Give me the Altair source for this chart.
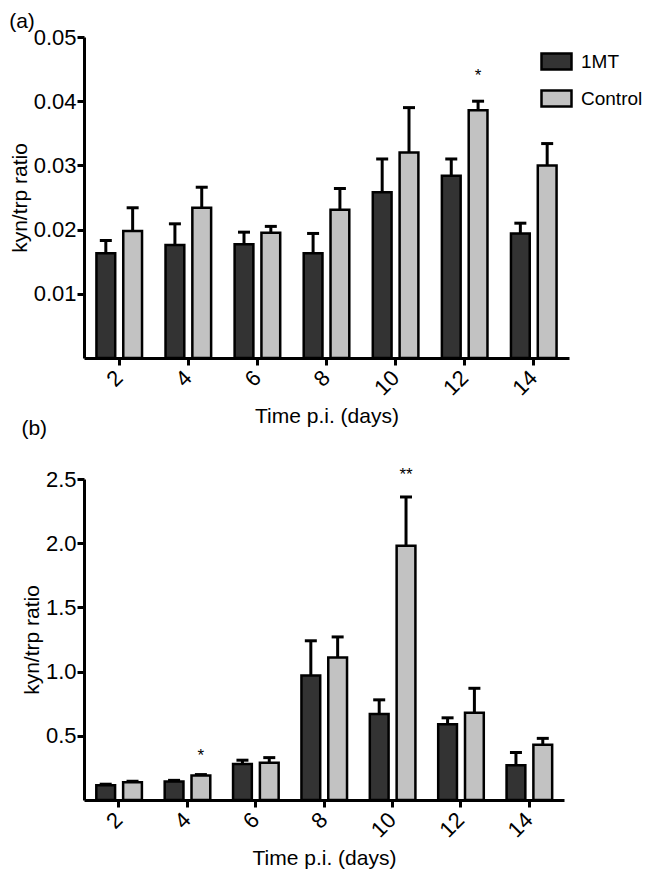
import altair as alt
import pandas as pd

days = ["2", "4", "6", "8", "10", "12", "14"]
groups = ["1MT", "Control"]
colors = ["#333333", "#c2c2c2"]

# Panel (a)
a_1mt = [0.0163, 0.0176, 0.0177, 0.0163, 0.0258, 0.0284, 0.0194]
a_1mt_err = [0.0020, 0.0033, 0.0019, 0.0031, 0.0052, 0.0026, 0.0016]
a_ctrl = [0.0198, 0.0234, 0.0195, 0.0231, 0.0320, 0.0386, 0.0300]
a_ctrl_err = [0.0036, 0.0032, 0.0010, 0.0033, 0.0070, 0.0014, 0.0034]
a_star_day = ["12"]
a_star_text = ["*"]
a_star_y = [0.0447]
a_ticks = [0.01, 0.02, 0.03, 0.04, 0.05]

# Panel (b)
b_1mt = [0.115, 0.145, 0.28, 0.97, 0.67, 0.59, 0.27]
b_1mt_err = [0.008, 0.008, 0.03, 0.27, 0.11, 0.05, 0.10]
b_ctrl = [0.138, 0.19, 0.29, 1.11, 1.98, 0.68, 0.43]
b_ctrl_err = [0.008, 0.008, 0.04, 0.16, 0.38, 0.19, 0.05]
b_star_day = ["4", "10"]
b_star_text = ["*", "**"]
b_star_y = [0.38, 2.57]
b_ticks = [0.5, 1.0, 1.5, 2.0, 2.5]

FONT = "Liberation Sans"


def make_df(m1, e1, m2, e2):
    rows = []
    for i, d in enumerate(days):
        rows.append(dict(day=d, group=groups[0], mean=m1[i], upper=m1[i] + e1[i]))
        rows.append(dict(day=d, group=groups[1], mean=m2[i], upper=m2[i] + e2[i]))
    return pd.DataFrame(rows)


def panel(df, star_df, ymax, ticks, fmt, label, width, height, legend, title_offset):
    x = alt.X("day:N", sort=days,
              scale=alt.Scale(paddingInner=0.34, paddingOuter=0.18),
              axis=alt.Axis(title="Time p.i. (days)", labelAngle=315, labelPadding=9,
                            titlePadding=6))
    xo = alt.XOffset("group:N", sort=groups,
                     scale=alt.Scale(paddingInner=0.3, paddingOuter=0))
    y = alt.Y("mean:Q", scale=alt.Scale(domain=[0, ymax], nice=False),
              axis=alt.Axis(title="kyn/trp ratio", values=ticks, format=fmt,
                            labelPadding=1, titlePadding=3))
    if legend:
        leg = alt.Legend(orient="none", legendX=456, legendY=8, title=None,
                         symbolType="M-1,-0.53L1,-0.53L1,0.53L-1,0.53Z",
                         symbolSize=900, symbolStrokeColor="black",
                         symbolStrokeWidth=2.5, labelFontSize=19,
                         labelColor="black", labelFont=FONT, labelOffset=8,
                         rowPadding=7)
    else:
        leg = None
    color_kw = dict(scale=alt.Scale(domain=groups, range=colors))
    color_kw["legend"] = leg
    base = alt.Chart(df)
    bars = base.mark_bar(stroke="black", strokeWidth=2.5, opacity=1).encode(
        x=x, xOffset=xo, y=y,
        fill=alt.Fill("group:N", **color_kw),
    )
    rules = base.mark_rule(color="black", strokeWidth=3).encode(
        x=alt.X("day:N", sort=days), xOffset=alt.XOffset("group:N", sort=groups),
        y="mean:Q", y2="upper:Q",
    )
    caps = base.mark_tick(color="black", thickness=3, size=12, opacity=1).encode(
        x=alt.X("day:N", sort=days), xOffset=alt.XOffset("group:N", sort=groups),
        y="upper:Q",
    )
    stars = alt.Chart(star_df).mark_text(fontSize=17, font=FONT, color="black",
                                         baseline="alphabetic", dy=10).encode(
        x=alt.X("day:N", sort=days), xOffset=alt.XOffset("group:N", sort=groups),
        y="y:Q", text="text:N",
    )
    return alt.layer(rules, caps, bars, stars).properties(
        width=width, height=height,
        title=alt.TitleParams(label, anchor="start", frame="bounds", fontSize=21,
                              fontWeight="normal", font=FONT, color="black",
                              offset=title_offset),
    )


df_a = make_df(a_1mt, a_1mt_err, a_ctrl, a_ctrl_err)
df_b = make_df(b_1mt, b_1mt_err, b_ctrl, b_ctrl_err)
stars_a = pd.DataFrame(dict(day=a_star_day, group=["Control"] * len(a_star_day),
                            text=a_star_text, y=a_star_y))
stars_b = pd.DataFrame(dict(day=b_star_day, group=["Control"] * len(b_star_day),
                            text=b_star_text, y=b_star_y))

pa = panel(df_a, stars_a, 0.05, a_ticks, ".2f", "(a)", 485, 321, True, -6)
pb = panel(df_b, stars_b, 2.5, b_ticks, ".1f", "(b)", 480, 321, False, 27)

chart = alt.vconcat(pa, pb, spacing=121, bounds="flush").resolve_scale(
    fill="independent"
).properties(
    padding={"left": 1, "top": 3, "right": 0, "bottom": 0}
).configure_view(stroke=None).configure_axis(
    domainColor="black", domainWidth=3, tickColor="black", tickWidth=3, tickSize=7,
    labelColor="black", labelFont=FONT, labelFontSize=22, titleFont=FONT,
    titleFontSize=21, titleFontWeight="normal", titleColor="black", grid=False,
)

chart.save("out.html", embed_options={"renderer": "svg", "actions": False})
